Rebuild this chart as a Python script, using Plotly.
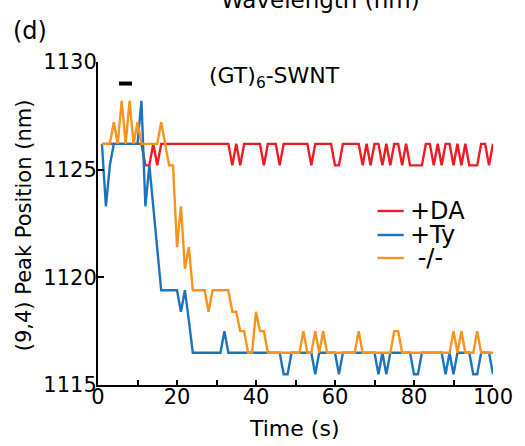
import plotly.graph_objects as go

# time axis (s)
time_s = list(range(1, 101))

# (9,4) peak position (nm) for each condition
peak_da = [
    1126.2, 1126.2, 1126.2, 1126.2, 1126.2, 1126.2, 1126.2, 1126.2, 1126.2, 1126.2,
    1126.2, 1125.2, 1125.2, 1126.2, 1125.2, 1126.2, 1126.2, 1126.2, 1126.2, 1126.2,
    1126.2, 1126.2, 1126.2, 1126.2, 1126.2, 1126.2, 1126.2, 1126.2, 1126.2, 1126.2,
    1126.2, 1126.2, 1126.2, 1125.2, 1126.2, 1125.2, 1126.2, 1126.2, 1126.2, 1126.2,
    1126.2, 1125.2, 1126.2, 1126.2, 1126.2, 1125.2, 1126.2, 1126.2, 1126.2, 1126.2,
    1126.2, 1126.2, 1126.2, 1125.2, 1126.2, 1126.2, 1126.2, 1126.2, 1126.2, 1125.2,
    1125.2, 1126.2, 1126.2, 1126.2, 1126.2, 1126.2, 1125.2, 1126.2, 1125.2, 1126.2,
    1126.2, 1125.2, 1126.2, 1125.2, 1126.2, 1126.2, 1125.2, 1126.2, 1125.2, 1125.2,
    1125.2, 1125.2, 1126.2, 1126.2, 1125.2, 1126.2, 1125.2, 1126.2, 1126.2, 1125.2,
    1126.2, 1125.2, 1126.2, 1125.2, 1125.2, 1125.2, 1126.2, 1126.2, 1125.2, 1126.2,
]

peak_ty = [
    1126.2, 1123.3, 1125.2, 1126.2, 1126.2, 1126.2, 1126.2, 1126.2, 1126.2, 1126.2,
    1128.2, 1123.3, 1125.2, 1123.3, 1121.4, 1119.4, 1119.4, 1119.4, 1119.4, 1119.4,
    1118.4, 1119.4, 1118.0, 1116.5, 1116.5, 1116.5, 1116.5, 1116.5, 1116.5, 1116.5,
    1116.5, 1117.5, 1116.5, 1116.5, 1116.5, 1116.5, 1116.5, 1116.5, 1116.5, 1116.5,
    1116.5, 1116.5, 1116.5, 1116.5, 1116.5, 1116.5, 1115.5, 1115.5, 1116.5, 1116.5,
    1116.5, 1116.5, 1116.5, 1116.5, 1115.5, 1116.5, 1116.5, 1116.5, 1116.5, 1116.5,
    1115.5, 1116.5, 1116.5, 1116.5, 1116.5, 1116.5, 1116.5, 1116.5, 1116.5, 1116.5,
    1115.5, 1116.5, 1115.5, 1116.5, 1116.5, 1116.5, 1116.5, 1116.5, 1116.5, 1115.5,
    1115.5, 1116.5, 1116.5, 1116.5, 1116.5, 1116.5, 1116.5, 1115.5, 1116.5, 1115.5,
    1116.5, 1116.5, 1116.5, 1116.5, 1115.5, 1115.5, 1116.5, 1116.5, 1116.5, 1115.5,
]

peak_none = [
    1126.2, 1126.2, 1126.2, 1127.2, 1126.2, 1128.2, 1126.2, 1128.2, 1126.2, 1127.2,
    1126.2, 1126.2, 1126.2, 1126.2, 1126.2, 1127.2, 1126.2, 1125.2, 1125.2, 1121.4,
    1123.3, 1120.4, 1121.4, 1119.4, 1119.4, 1119.4, 1119.4, 1118.4, 1119.4, 1119.4,
    1119.4, 1119.4, 1119.4, 1118.4, 1118.4, 1117.5, 1117.5, 1116.5, 1116.5, 1118.4,
    1117.5, 1117.5, 1116.5, 1116.5, 1116.5, 1116.5, 1116.5, 1116.5, 1116.5, 1116.5,
    1116.5, 1117.5, 1116.5, 1116.5, 1117.5, 1116.5, 1117.5, 1116.5, 1116.5, 1116.5,
    1116.5, 1116.5, 1116.5, 1116.5, 1116.5, 1117.5, 1116.5, 1116.5, 1116.5, 1116.5,
    1116.5, 1116.5, 1116.5, 1116.5, 1117.5, 1117.5, 1116.5, 1116.5, 1116.5, 1116.5,
    1116.5, 1116.5, 1116.5, 1116.5, 1116.5, 1116.5, 1116.5, 1116.5, 1116.5, 1117.5,
    1116.5, 1117.5, 1116.5, 1116.5, 1116.5, 1117.5, 1116.5, 1116.5, 1116.5, 1116.5,
]

series_names = ["+DA", "+Ty", " -/-"]
series_colors = ["#ED1C24", "#1C75BC", "#F7941D"]

# analyte addition marker (s, nm)
addition_span = [5.3, 8.6]
addition_level = 1129.0

FONT = "DejaVu Sans"

# plot area in pixels: x 98..505, y 62..385
L, R, T, B = 98, 20, 62, 61
W, H = 525, 446


def px(x):
    return (x - L) / (W - L - R)


def py(y):
    return (H - B - y) / (H - T - B)


fig = go.Figure()
for vals, col in zip([peak_da, peak_ty, peak_none], series_colors):
    fig.add_trace(go.Scatter(x=time_s, y=vals, mode="lines",
                             line=dict(color=col, width=2.4), showlegend=False))

fig.add_trace(go.Scatter(x=addition_span, y=[addition_level] * 2, mode="lines",
                         line=dict(color="black", width=4), showlegend=False))

# legend drawn by hand
leg_y = [211, 235, 258]
for name, col, yy in zip(series_names, series_colors, leg_y):
    fig.add_shape(type="line", xref="paper", yref="paper",
                  x0=px(386), x1=px(413), y0=py(yy), y1=py(yy),
                  line=dict(color=col, width=2.4))
    fig.add_annotation(xref="paper", yref="paper", x=px(417), y=py(yy),
                       text=name, showarrow=False, xanchor="left", yanchor="middle",
                       font=dict(family=FONT, size=24, color="black"))

notes = [
    ("(GT)<sub>6</sub>-SWNT", 280, 77, 22, 0),
    ("(d)", 28, 31, 24, 0),
    ("Wavelength (nm)", 327, 0, 23, 0),
    ("(9,4) Peak Position (nm)", 22, 225, 21, -90),
    ("Time (s)", 300, 428, 22, 0),
]
for txt, x, y, sz, ang in notes:
    fig.add_annotation(xref="paper", yref="paper", x=px(x), y=py(y), text=txt,
                       showarrow=False, xanchor="center", yanchor="middle",
                       textangle=ang, font=dict(family=FONT, size=sz, color="black"))

axis_common = dict(showgrid=False, zeroline=False, showline=True, linecolor="black",
                   linewidth=2, ticks="inside", tickwidth=2, tickcolor="black",
                   ticklabeloverflow="allow",
                   tickfont=dict(family=FONT, size=21, color="black"))

fig.update_xaxes(range=[0, 100], tickvals=[0, 20, 40, 60, 80, 100], ticklen=5,
                 ticklabelstandoff=-8,
                 minor=dict(tickvals=[10, 30, 50, 70, 90], ticks="inside",
                            ticklen=5, tickwidth=2, tickcolor="black"),
                 **axis_common)
fig.update_yaxes(range=[1115, 1130], tickvals=[1115, 1120, 1125, 1130], ticklen=6,
                 ticklabelstandoff=-5, **axis_common)

fig.update_layout(width=W, height=H, margin=dict(l=L, r=R, t=T, b=B),
                  plot_bgcolor="white", paper_bgcolor="white",
                  font=dict(family=FONT, color="black"))

fig.write_html("out.html", config={"displayModeBar": False},
               post_script="document.body.style.margin='0';")
